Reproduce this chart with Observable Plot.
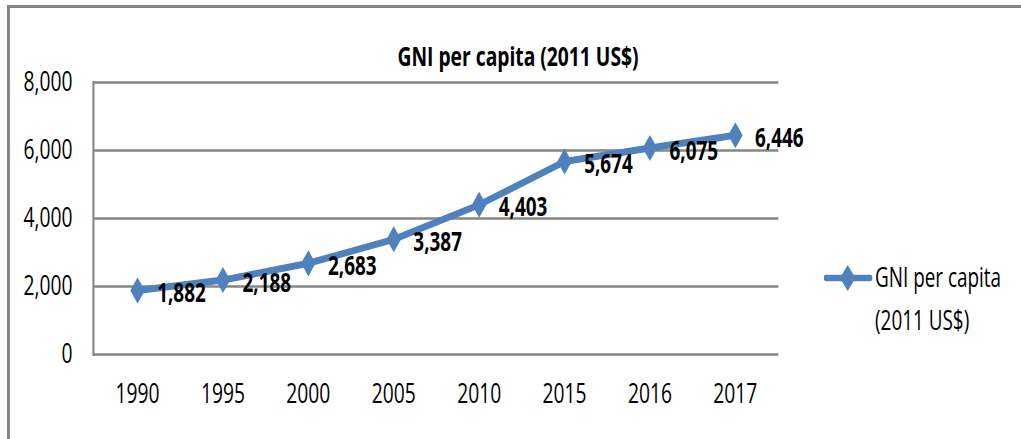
<!DOCTYPE html>
<html>
<head>
<meta charset="utf-8">
<script src="https://cdn.jsdelivr.net/npm/d3@7"></script>
<script src="https://cdn.jsdelivr.net/npm/@observablehq/plot@0.6"></script>
<style>
  html, body { margin: 0; padding: 0; background: #fff; }
  body { width: 1021px; height: 439px; position: relative; overflow: hidden;
         font-family: "Open Sans", "DejaVu Sans Condensed", sans-serif; }
  #frame { position: absolute; left: 7px; top: 5px; width: 1030px; height: 450px;
           border-top: 3px solid #858585; border-left: 3px solid #858585; box-sizing: border-box; }
  /* the whole chart is drawn wider and squeezed horizontally, like the narrow source figure */
  #wrap { position: absolute; left: 0; top: 0; width: 1459px; height: 439px;
          transform: scaleX(0.7); transform-origin: 0 0; }
  #title { position: absolute; left: 540px; width: 400px; top: 40px; line-height: 32px;
           text-align: center; font-weight: bold; font-size: 27.5px; color: #000; }
  #chart { position: absolute; left: 0; top: 0; }
  #legend { position: absolute; left: 1177px; top: 255px; font-size: 27px; color: #000; line-height: 43px; }
  #legend svg { position: absolute; left: 0; top: 7px; }
  #legend .lab { margin-left: 73px; white-space: nowrap; }
</style>
</head>
<body>
<div id="frame"></div>
<div id="wrap">
  <div id="chart"></div>
  <div id="title">GNI per capita (2011 US$)</div>
  <div id="legend">
    <svg width="70" height="32"><line x1="3" y1="16" x2="66" y2="16" stroke="#4F81BD" stroke-width="6.5" stroke-linecap="round"/><path d="M34,3 L45,16 L34,29 L23,16 Z" fill="#4F81BD"/></svg>
    <div class="lab">GNI per capita<br>(2011 US$)</div>
  </div>
</div>
<script>
const years = ["1990", "1995", "2000", "2005", "2010", "2015", "2016", "2017"];
const gni = [1882, 2188, 2683, 3387, 4403, 5674, 6075, 6446];
const yTicks = [0, 2000, 4000, 6000, 8000];
const seriesName = "GNI per capita (2011 US$)";

const data = years.map((year, i) => ({year, value: gni[i]}));
const blue = "#4F81BD";
const fmt = d3.format(",");
const font = '"Open Sans", "DejaVu Sans Condensed", sans-serif';

const tallDiamond = {
  draw(context, size) {
    const r = Math.sqrt(size / Math.PI);
    const hw = r * 0.8, hh = r;
    context.moveTo(0, -hh);
    context.lineTo(hw, 0);
    context.lineTo(0, hh);
    context.lineTo(-hw, 0);
    context.closePath();
  }
};

const chart = Plot.plot({
  width: 1459,
  height: 439,
  marginLeft: 133,
  marginRight: 347,
  marginTop: 82,
  marginBottom: 85,
  style: {fontFamily: font, fontSize: "27.5px", color: "#000", background: "transparent"},
  x: {type: "point", domain: years, padding: 0.5, label: null},
  y: {domain: [0, 8000], label: null},
  marks: [
    Plot.ruleY(yTicks, {stroke: "#868686", strokeWidth: 2.5, strokeOpacity: 1}),
    Plot.frame({anchor: "left", stroke: "#868686", strokeWidth: 3}),
    Plot.axisY(yTicks, {tickSize: 0, tickPadding: 30, tickFormat: fmt, fontSize: 27.5}),
    Plot.axisX({tickSize: 0, tickPadding: 29, fontSize: 27.5}),
    Plot.line(data, {x: "year", y: "value", stroke: blue, strokeWidth: 7, strokeLinejoin: "round"}),
    Plot.dot(data, {x: "year", y: "value", symbol: tallDiamond, r: 13, fill: blue, stroke: "none"}),
    Plot.text(data, {x: "year", y: "value", text: d => fmt(d.value), dx: 28, dy: 3, textAnchor: "start", fontWeight: "bold", fontSize: 27, fill: "#000"})
  ]
});
document.getElementById("chart").appendChild(chart);
</script>
</body>
</html>
